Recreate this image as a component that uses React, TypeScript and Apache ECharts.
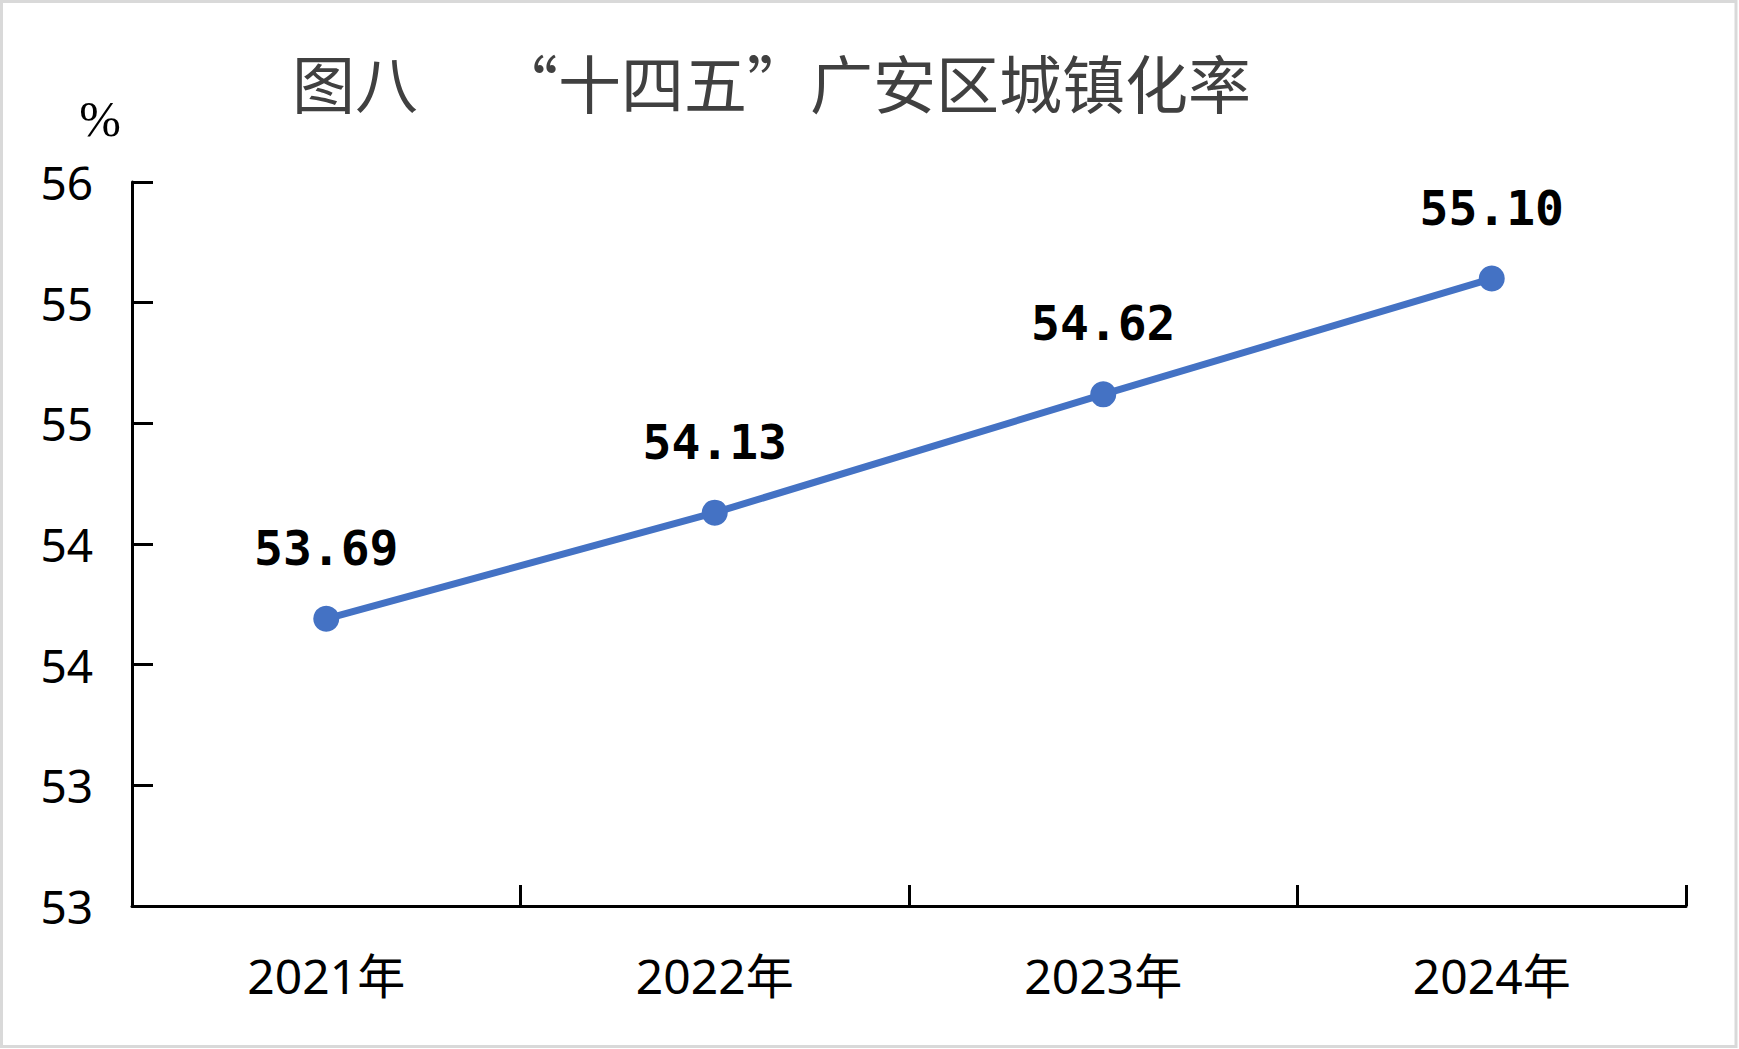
import React, { useEffect, useRef } from "react";
import * as echarts from "echarts";

const categories = ["2021年", "2022年", "2023年", "2024年"];
const rateValues = [53.69, 54.13, 54.62, 55.1];
const yMin = 52.5;
const yMax = 55.5;
const yInterval = 0.5;
const titleText = "图八　 “十四五”广安区城镇化率";
const unitText = "%";

export default function App() {
  const ref = useRef<HTMLDivElement>(null);
  useEffect(() => {
    document.body.style.margin = "0";
    const chart = echarts.init(ref.current!, null, { renderer: "svg" });
    chart.setOption({
      animation: false,
      backgroundColor: "#ffffff",
      title: {
        text: titleText,
        left: 287,
        top: 44,
        textStyle: {
          fontSize: 63,
          fontWeight: "normal",
          color: "#404040",
          fontFamily: "Noto Sans CJK SC",
        },
      },
      graphic: [
        {
          type: "rect",
          shape: { x: 1.5, y: 1.5, width: 1734.5, height: 1045 },
          style: { fill: "none", stroke: "#d9d9d9", lineWidth: 3 },
          silent: true,
        },
        {
          type: "text",
          x: 100,
          y: 119,
          style: {
            text: unitText,
            fontSize: 50,
            fontFamily: "Liberation Serif",
            fill: "#000000",
            align: "center",
            verticalAlign: "middle",
          },
        },
      ],
      grid: { left: 132, right: 53, top: 182, bottom: 143, containLabel: false },
      xAxis: {
        type: "category",
        data: categories,
        boundaryGap: true,
        axisLine: { show: true, lineStyle: { color: "#000000", width: 3 } },
        axisTick: {
          show: true,
          inside: true,
          length: 21,
          alignWithLabel: false,
          lineStyle: { color: "#000000", width: 3 },
        },
        axisLabel: {
          margin: 45,
          fontSize: 48,
          color: "#000000",
          fontFamily: "Noto Sans, Noto Sans CJK SC",
        },
        splitLine: { show: false },
      },
      yAxis: {
        type: "value",
        min: yMin,
        max: yMax,
        interval: yInterval,
        axisLine: { show: true, lineStyle: { color: "#000000", width: 3 } },
        axisTick: {
          show: true,
          inside: true,
          length: 21,
          lineStyle: { color: "#000000", width: 3 },
        },
        axisLabel: {
          margin: 39,
          fontSize: 46,
          color: "#000000",
          fontFamily: "Noto Sans",
          formatter: (v: number) => String(Math.round(v)),
        },
        splitLine: { show: false },
      },
      series: [
        {
          type: "line",
          data: rateValues,
          symbol: "circle",
          symbolSize: 26,
          lineStyle: { color: "#4472C4", width: 7 },
          itemStyle: { color: "#4472C4" },
          label: {
            show: true,
            position: "top",
            distance: 34,
            fontSize: 48,
            fontWeight: "bold",
            color: "#000000",
            fontFamily: "DejaVu Sans Mono",
            formatter: (p: any) => Number(p.value).toFixed(2),
          },
        },
      ],
    });
    return () => chart.dispose();
  }, []);
  return <div ref={ref} style={{ width: 1739, height: 1049 }} />;
}
